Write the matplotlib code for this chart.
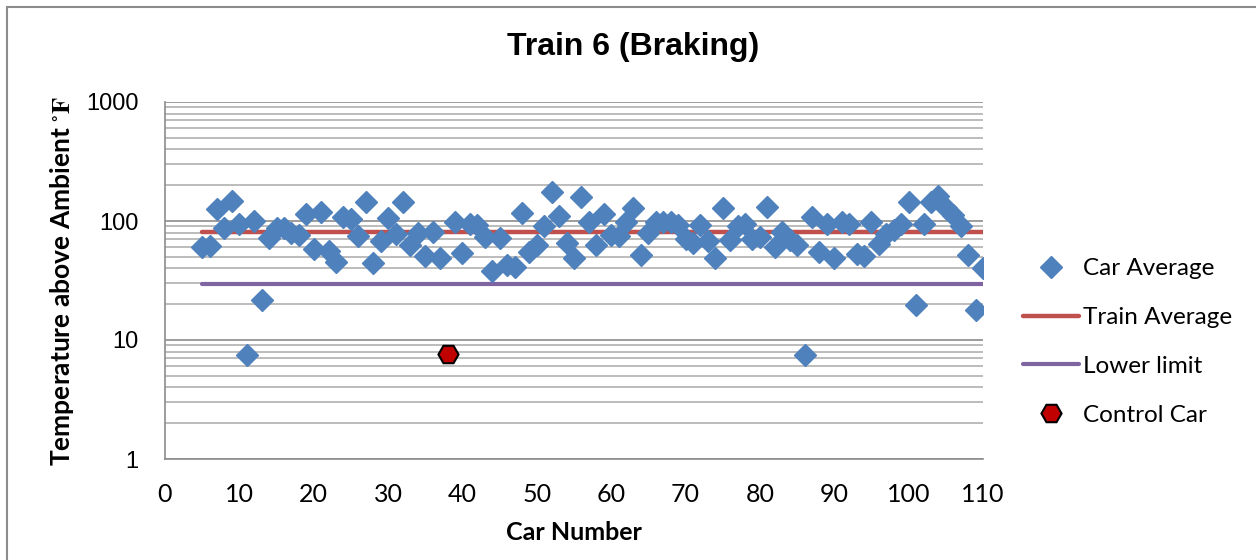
import matplotlib.pyplot as plt
from matplotlib.patches import Rectangle

plt.rcParams['mathtext.fontset'] = 'stix'

# car numbers and average temperature above ambient (deg F)
cars = [5, 6, 7, 8, 9, 10, 11, 12, 13, 14, 15, 16, 17, 18, 19, 20, 21, 22, 23, 24,
        25, 26, 27, 28, 29, 30, 31, 32, 33, 34, 35, 36, 37, 39, 40, 41, 42, 43, 44, 45,
        46, 47, 48, 49, 50, 51, 52, 53, 54, 55, 56, 57, 58, 59, 60, 61, 62, 63, 64, 65,
        66, 67, 68, 69, 70, 71, 72, 73, 74, 75, 76, 77, 78, 79, 80, 81, 82, 83, 84, 85,
        86, 87, 88, 89, 90, 91, 92, 93, 94, 95, 96, 97, 98, 99, 100, 101, 102, 103, 104,
        105, 106, 107, 108, 109, 110]
car_avg = [60, 62, 125, 88, 147, 94, 7.5, 100, 21.7, 72, 88, 87, 79, 76, 114, 58, 118, 56, 45, 109,
           103, 75, 144, 44, 68, 105, 78, 145, 63, 79, 51, 81, 49, 99, 54, 95, 92, 74, 38, 72,
           43, 41, 117, 55, 63, 90, 176, 111, 65, 49, 160, 99, 63, 115, 77, 75, 99, 129, 52, 80,
           99, 98, 99, 92, 71, 65, 92, 68, 49, 128, 69, 90, 95, 71, 74, 132, 60, 81, 69, 63,
           7.5, 109, 55, 94, 49, 99, 95, 53, 51, 99, 64, 78, 84, 94, 144, 19.7, 95, 144, 162,
           128, 112, 91, 52, 18, 40]

control_car = [38]
control_val = [7.7]

line_x = [5, 110]
train_avg = [81, 81]
lower_limit = [29.5, 29.5]

fig = plt.figure(figsize=(12.56, 5.6), dpi=100)
ax = fig.add_axes([165 / 1256, 1 - 459 / 560, 818 / 1256, 357 / 560])

ax.plot(line_x, train_avg, color='#C0504D', lw=3.2, solid_capstyle='round', label='Train Average', zorder=2)
ax.plot(line_x, lower_limit, color='#8064A2', lw=3, solid_capstyle='round', label='Lower limit', zorder=2)
ax.plot(cars, car_avg, ls='none', marker='D', ms=11.5, color='#4F81BD', mec='#4F81BD',
        label='Car Average', zorder=3)
ax.plot(control_car, control_val, ls='none', marker='H', ms=14.5, color='#C00000', mec='black',
        mew=1.5, label='Control Car', zorder=4)

ax.set_yscale('log')
ax.set_ylim(1, 1000)
ax.set_xlim(0, 110)
ax.set_xticks(range(0, 111, 10))
ax.set_yticks([1, 10, 100, 1000])
ax.set_yticklabels(['1', '10', '100', '1000'], family='Liberation Sans', fontsize=17)
ax.set_xticklabels([str(v) for v in range(0, 111, 10)], family='Lato', fontsize=18)
ax.tick_params(axis='both', which='both', length=0)
ax.tick_params(axis='x', pad=17)
ax.tick_params(axis='y', pad=19)

ax.grid(True, which='major', axis='y', color='#8c8c8c', lw=1.2)
ax.grid(True, which='minor', axis='y', color='#b0b0b0', lw=1.2)
ax.set_axisbelow(True)
for s in ['top', 'right']:
    ax.spines[s].set_visible(False)
for s in ['left', 'bottom']:
    ax.spines[s].set_color('#8c8c8c')
    ax.spines[s].set_linewidth(1.2)

fig.text(633 / 1256, 1 - 47 / 560, 'Train 6 (Braking)', ha='center', va='center',
         family='Liberation Sans', weight='bold', fontsize=23)
fig.text(574 / 1256, 1 - 533 / 560, 'Car Number', ha='center', va='center',
         family='Lato', weight='bold', fontsize=18)
fig.text(62 / 1256, 1 - 281 / 560, r'Temperature above Ambient $^{\circ}\mathbf{F}$',
         ha='center', va='center', rotation=90, family='Lato', weight='bold', fontsize=19)

h, l = ax.get_legend_handles_labels()
order = [2, 0, 1, 3]
fig.legend([h[i] for i in order], [l[i] for i in order], loc='center left',
           bbox_to_anchor=(1011 / 1256, 1 - 342 / 560), frameon=False,
           prop={'family': 'Lato', 'size': 17.5}, handlelength=2.3, handletextpad=0.15,
           labelspacing=1.15, borderpad=0)

fig.patches.append(Rectangle((7 / 1256, -0.5), 2, 1.5 - 7 / 560, transform=fig.transFigure,
                             fill=False, edgecolor='#8c8c8c', lw=1.5))

plt.savefig('out.png', dpi=100)
